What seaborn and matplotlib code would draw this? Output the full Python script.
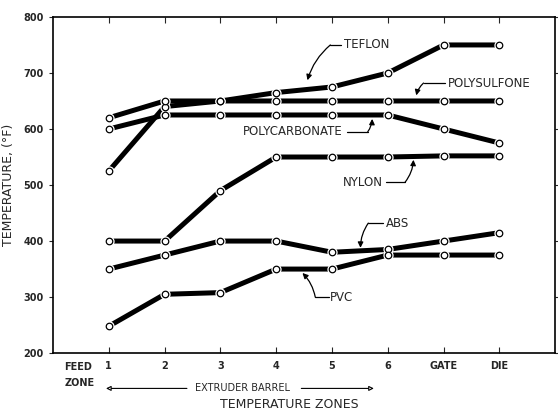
import matplotlib
matplotlib.use('Agg')
import matplotlib.pyplot as plt
import pandas as pd
import seaborn as sns

zones = ['1', '2', '3', '4', '5', '6', 'GATE', 'DIE']
zone_pos = [1, 2, 3, 4, 5, 6, 7, 8]
teflon = [525, 640, 650, 665, 675, 700, 750, 750]
polysulfone = [620, 650, 650, 650, 650, 650, 650, 650]
polycarbonate = [600, 625, 625, 625, 625, 625, 600, 575]
nylon = [400, 400, 490, 550, 550, 550, 552, 552]
abs_resin = [350, 375, 400, 400, 380, 385, 400, 415]
pvc = [248, 305, 308, 350, 350, 375, 375, 375]
materials = ['TEFLON', 'POLYSULFONE', 'POLYCARBONATE', 'NYLON', 'ABS', 'PVC']
series = [teflon, polysulfone, polycarbonate, nylon, abs_resin, pvc]

rows = []
for name, vals in zip(materials, series):
    for x, v in zip(zone_pos, vals):
        rows.append({'zone': x, 'temp': v, 'material': name})
df = pd.DataFrame(rows)

sns.set_style('ticks')
plt.rcParams['font.family'] = ['DejaVu Sans']

fig = plt.figure(figsize=(5.58, 4.13), dpi=100)
ax = fig.add_axes([0.095, 0.145, 0.9, 0.814])

sns.lineplot(data=df, x='zone', y='temp', hue='material', palette=['black'] * 6,
             linewidth=3.6, legend=False, ax=ax, solid_capstyle='butt')
# white halo then open circles
sns.scatterplot(data=df, x='zone', y='temp', color='white', s=55, linewidth=0,
                legend=False, ax=ax, zorder=3)
sns.scatterplot(data=df, x='zone', y='temp', color='white', edgecolor='black',
                s=22, linewidth=0.9, legend=False, ax=ax, zorder=4)

ax.set_xlim(0, 9.0)
ax.set_ylim(200, 800)
ax.set_yticks(range(200, 801, 100))
ax.set_xticks(zone_pos)
ax.set_xticklabels(zones)
for lab in ax.get_xticklabels() + ax.get_yticklabels():
    lab.set_fontweight('bold')
    lab.set_fontsize(7)
ax.tick_params(axis='x', direction='in', length=4, pad=6, top=True)
ax.tick_params(axis='y', direction='out', length=3, right=True)
for s in ax.spines.values():
    s.set_visible(True)
    s.set_linewidth(1.2)
    s.set_color('black')

ax.set_xlabel('TEMPERATURE ZONES', fontsize=9)
ax.xaxis.set_label_coords(0.47, -0.135)
ax.set_ylabel('TEMPERATURE, (°F)', fontsize=9)
ax.yaxis.set_label_coords(-0.075, 0.5)

tr = ax.get_xaxis_transform()
ax.text(0.2, -0.027, 'FEED\nZONE', transform=tr, fontsize=7, fontweight='bold',
        ha='left', va='top', linespacing=1.7)
ax.text(3.4, -0.105, 'EXTRUDER BARREL', transform=tr, fontsize=7, ha='center', va='center')
arr = dict(arrowstyle='-|>', lw=0.8, color='black', mutation_scale=7,
           shrinkA=0, shrinkB=0, fc='white')
ax.annotate('', xy=(0.95, -0.105), xytext=(2.4, -0.105), xycoords=tr, textcoords=tr, arrowprops=arr)
ax.annotate('', xy=(5.75, -0.105), xytext=(4.45, -0.105), xycoords=tr, textcoords=tr, arrowprops=arr)

# series labels with leader arrows: text pos, ha, line x-range, tip
labels = [
    ('TEFLON', 5.21, 750, 'left', (4.97, 5.17), (4.56, 687)),
    ('POLYSULFONE', 7.07, 682, 'left', (6.64, 7.03), (6.51, 660)),
    ('POLYCARBONATE', 5.19, 595, 'right', (5.64, 5.26), (5.72, 618)),
    ('NYLON', 5.92, 505, 'right', (6.31, 5.96), (6.46, 545)),
    ('ABS', 5.96, 432, 'left', (5.65, 5.92), (5.51, 388)),
    ('PVC', 4.97, 300, 'left', (4.70, 4.94), (4.47, 343)),
]
lead = dict(arrowstyle='-|>', lw=0.9, color='black', mutation_scale=8,
            shrinkA=0, shrinkB=0, connectionstyle='arc3,rad=0.15')
for name, tx, ty, ha, (x0, x1), tip in labels:
    ax.text(tx, ty, name, fontsize=8.5, ha=ha, va='center', zorder=5)
    ax.plot([x0, x1], [ty, ty], color='black', lw=0.9)
    ax.annotate('', xy=tip, xytext=(x0, ty), arrowprops=lead)

fig.savefig('out.png', dpi=100)
